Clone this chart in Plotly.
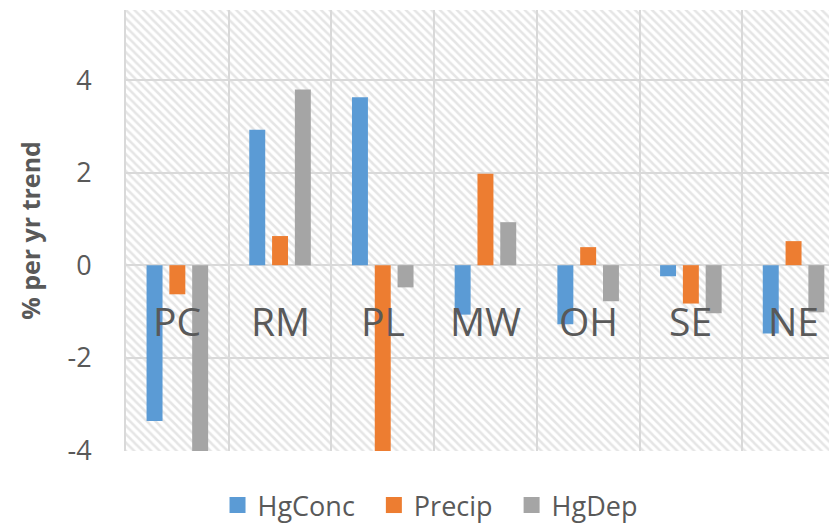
import plotly.graph_objects as go

categories = ["PC", "RM", "PL", "MW", "OH", "SE", "NE"]
hg_conc = [-3.37, 2.93, 3.63, -1.07, -1.28, -0.24, -1.48]
precip = [-0.63, 0.63, -4.07, 1.98, 0.39, -0.83, 0.52]
hg_dep = [-4.07, 3.80, -0.48, 0.93, -0.78, -1.04, -1.02]
y_ticks = [-4, -2, 0, 2, 4]
y_tick_text = ["-4", "-2", "0", "2", "4"]
series_names = ["HgConc", "Precip", "HgDep"]

colors = ["#5B9BD5", "#ED7D31", "#A5A5A5"]
series_values = [hg_conc, precip, hg_dep]
FONT = "Open Sans"
TXT = "#595959"
PAD = "\u00a0\u00a0"

fig = go.Figure()

# hatched plot background (decorative, drawn on its own hidden subplot underneath)
fig.add_trace(go.Scatter(
    x=[0, 1, 1, 0, 0], y=[0, 0, 1, 1, 0], xaxis="x", yaxis="y",
    mode="lines", line=dict(width=0), fill="toself", fillcolor="white",
    fillpattern=dict(shape="\\", fgcolor="#cccccc", bgcolor="white", size=6, solidity=0.42),
    hoverinfo="skip", showlegend=False))

for name, vals, color in zip(series_names, series_values, colors):
    fig.add_trace(go.Bar(x=categories, y=vals, name=name, marker_color=color,
                         marker_line_width=0, showlegend=False, xaxis="x2", yaxis="y2"))
for i, (name, color) in enumerate(zip(series_names, colors)):
    label = name + (PAD if i < len(series_names) - 1 else "")
    fig.add_trace(go.Scatter(x=[None], y=[None], mode="markers", name=label,
                             xaxis="x2", yaxis="y2",
                             marker=dict(symbol="square", size=18, color=color)))

for c in categories:
    fig.add_annotation(x=c, y=0, yshift=-55, text=c, showarrow=False,
                       font=dict(family=FONT, size=39, color=TXT), xref="x2", yref="y2")

fig.update_layout(
    width=829, height=518,
    margin=dict(l=118, r=0, t=2, b=75, autoexpand=False),
    paper_bgcolor="white", plot_bgcolor="rgba(0,0,0,0)",
    barmode="group", bargap=0.334, bargroupgap=0.30,
    font=dict(family=FONT, color=TXT),
    xaxis=dict(range=[0, 1], visible=False, fixedrange=True, domain=[0, 1]),
    yaxis=dict(range=[0, 1], visible=False, fixedrange=True, domain=[0, 1]),
    xaxis2=dict(range=[-0.5, 6.423], tickson="boundaries", showgrid=True, anchor="y2",
                gridcolor="#d9d9d9", gridwidth=2, showticklabels=False,
                zeroline=False, showline=False, domain=[0, 1]),
    yaxis2=dict(range=[-4.02, 5.52], tickvals=y_ticks, ticktext=y_tick_text, showgrid=True,
                anchor="x2", domain=[0, 1],
                showline=True, linecolor="#d9d9d9", linewidth=2,
                gridcolor="#d9d9d9", gridwidth=2, zeroline=True,
                zerolinecolor="#d9d9d9", zerolinewidth=2,
                tickfont=dict(size=27, color=TXT), ticks="outside", ticklen=27,
                tickcolor="rgba(0,0,0,0)",
                title=dict(text="<b>% per yr trend</b>", font=dict(size=25, color=TXT),
                           standoff=20)),
    legend=dict(orientation="h", x=0.4276, xanchor="center",
                y=-0.068, yanchor="top", tracegroupgap=0,
                font=dict(size=27, color=TXT), itemwidth=30, traceorder="normal"),
)
fig.write_html("out.html")
